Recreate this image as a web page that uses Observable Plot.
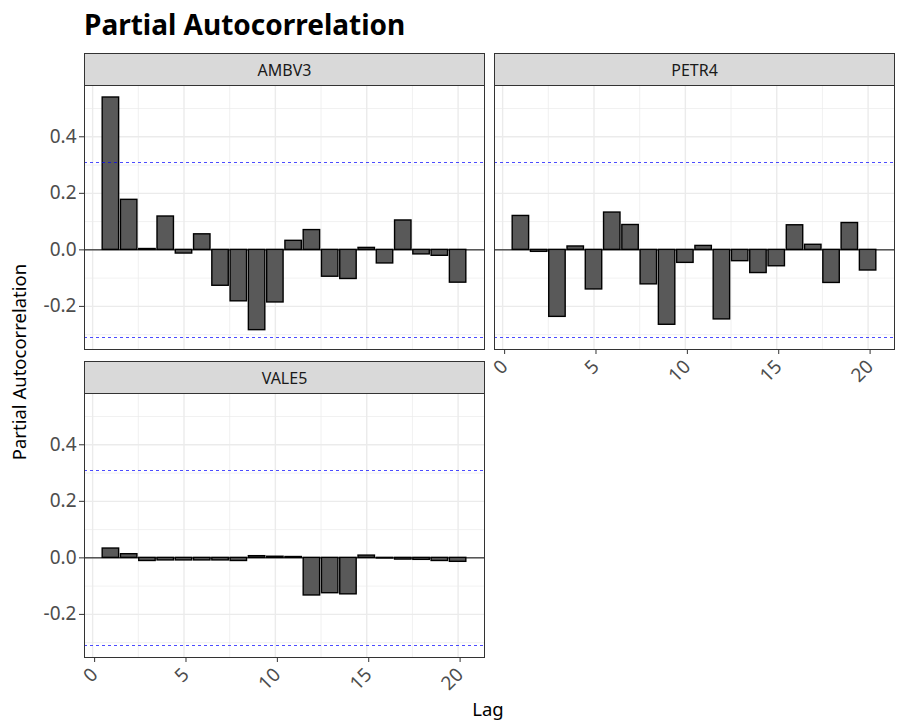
<!DOCTYPE html>
<html><head><meta charset="utf-8">
<script src="https://cdn.jsdelivr.net/npm/d3@7"></script>
<script src="https://cdn.jsdelivr.net/npm/@observablehq/plot@0.6"></script>
<style>
body{margin:0;background:#fff;font-family:"Noto Sans",sans-serif;}
#chart{position:relative;width:918px;height:726px;overflow:hidden;background:#fff;}
.abs{position:absolute;white-space:nowrap;}
.strip{position:absolute;box-sizing:border-box;background:#d9d9d9;border:1px solid #333;color:#1a1a1a;font-size:16px;display:flex;align-items:center;justify-content:center;}
svg{overflow:visible;}
</style></head><body><div id="chart"></div>
<script>
const lags = [1,2,3,4,5,6,7,8,9,10,11,12,13,14,15,16,17,18,19,20];
const ambv3 = [0.539,0.177,0.003,0.118,-0.013,0.055,-0.127,-0.182,-0.284,-0.186,0.032,0.070,-0.095,-0.103,0.007,-0.048,0.104,-0.016,-0.021,-0.116];
const petr4 = [0.120,-0.007,-0.237,0.012,-0.140,0.132,0.088,-0.122,-0.265,-0.046,0.014,-0.246,-0.040,-0.082,-0.058,0.087,0.018,-0.117,0.095,-0.073];
const vale5 = [0.033,0.013,-0.011,-0.009,-0.009,-0.009,-0.009,-0.011,0.006,0.004,0.003,-0.133,-0.125,-0.129,0.008,-0.002,-0.006,-0.007,-0.011,-0.014];
const seriesNames = ["AMBV3","PETR4","VALE5"];
const ciUpper = [0.31];
const ciLower = [-0.31];
const xTicks = [0,5,10,15,20];
const xMinor = [2.5,7.5,12.5,17.5];
const yTicks = [-0.2,0.0,0.2,0.4];
const yMinor = [-0.3,-0.1,0.1,0.3,0.5];

const allVals = [...ambv3,...petr4,...vale5,...ciUpper,...ciLower];
const barHalf = 0.45;
const yLo = d3.min(allVals), yHi = d3.max(allVals), yPad = (yHi-yLo)*0.05;
const yDomain = [yLo-yPad, yHi+yPad];
const xLo = d3.min(lags)-barHalf, xHi = d3.max(lags)+barHalf, xPad=(xHi-xLo)*0.05;
const xDomain = [xLo-xPad, xHi+xPad];

const PW = 400, PH = 264;
const ML = 70, MR = 6, MT = 6;
const chart = document.getElementById("chart");
// snap the dashed lines to whole pixels so they render crisply
const yPix = d3.scaleLinear().domain(yDomain).range([MT+PH, MT]);
const snap = v => Math.round(yPix(v)) - yPix(v);
const ciStyle = v => ({stroke:"#0000ff", strokeOpacity:0.7, strokeWidth:1, strokeDasharray:"3,3", dy: snap(v)});

function panel(vals, showX, showY){
  const data = lags.map((l,i)=>({lag:l, value:vals[i]}));
  const MB = showX ? 50 : 6;
  return Plot.plot({
    width: ML+PW+MR, height: MT+PH+MB,
    marginLeft: ML, marginRight: MR, marginTop: MT, marginBottom: MB,
    x: {domain: xDomain, axis: null},
    y: {domain: yDomain, axis: null},
    style: {fontFamily: "Noto Sans", background: "transparent", overflow: "visible"},
    marks: [
      Plot.gridX(xMinor, {stroke:"#ebebeb", strokeOpacity:1, strokeWidth:0.7}),
      Plot.gridY(yMinor, {stroke:"#ebebeb", strokeOpacity:1, strokeWidth:0.7}),
      Plot.gridX(xTicks, {stroke:"#ebebeb", strokeOpacity:1, strokeWidth:1.4}),
      Plot.gridY(yTicks, {stroke:"#ebebeb", strokeOpacity:1, strokeWidth:1.4}),
      Plot.ruleY([0], {stroke:"#000", strokeWidth:1}),
      Plot.rect(data, {x1: d=>d.lag-barHalf, x2: d=>d.lag+barHalf, y1: 0, y2: "value", fill:"#595959", stroke:"#000", strokeWidth:1.4}),
      Plot.ruleY(ciUpper, ciStyle(ciUpper[0])),
      Plot.ruleY(ciLower, ciStyle(ciLower[0])),
      Plot.frame({stroke:"#333", strokeWidth:1}),
      showX ? Plot.axisX(xTicks, {anchor:"bottom", tickSize:5, tickPadding:9, dx:2, tickRotate:-45, fontSize:19, fill:"#4d4d4d", stroke:"#333", label:null, tickFormat: d=>String(d)}) : null,
      showY ? Plot.axisY(yTicks, {anchor:"left", tickSize:5, tickPadding:3, fontSize:19, fill:"#4d4d4d", stroke:"#333", label:null, tickFormat: d=>d.toFixed(1)}) : null
    ]
  });
}

function place(node, left, top){
  node.style.position = "absolute";
  node.style.left = left+"px";
  node.style.top = top+"px";
  chart.appendChild(node);
}
function strip(name, left, top){
  const d = document.createElement("div");
  d.className = "strip";
  d.style.left = left+"px"; d.style.top = top+"px";
  d.style.width = (PW+1)+"px"; d.style.height = "33px";
  d.textContent = name;
  chart.appendChild(d);
}

const panels = [
  {vals: ambv3, name: seriesNames[0], x: 84, y: 85, showX: false, showY: true},
  {vals: petr4, name: seriesNames[1], x: 494, y: 85, showX: true, showY: false},
  {vals: vale5, name: seriesNames[2], x: 84, y: 393, showX: true, showY: true}
];
for (const p of panels){
  place(panel(p.vals, p.showX, p.showY), p.x-ML, p.y-MT);
  strip(p.name, p.x, p.y-32);
}

const title = document.createElement("div");
title.className = "abs";
title.style.cssText += "left:84px;top:10px;font-size:28px;line-height:28px;font-weight:bold;color:#000;";
title.textContent = "Partial Autocorrelation";
chart.appendChild(title);

const xt = document.createElement("div");
xt.className = "abs";
xt.style.cssText += "left:388px;width:200px;text-align:center;top:699px;font-size:18.5px;line-height:20px;color:#000;";
xt.textContent = "Lag";
chart.appendChild(xt);

const yt = document.createElement("div");
yt.className = "abs";
yt.style.cssText += "left:-131px;width:300px;text-align:center;top:352px;font-size:18.5px;line-height:20px;color:#000;transform:rotate(-90deg);transform-origin:150px 10px;";
yt.textContent = "Partial Autocorrelation";
chart.appendChild(yt);
</script></body></html>
